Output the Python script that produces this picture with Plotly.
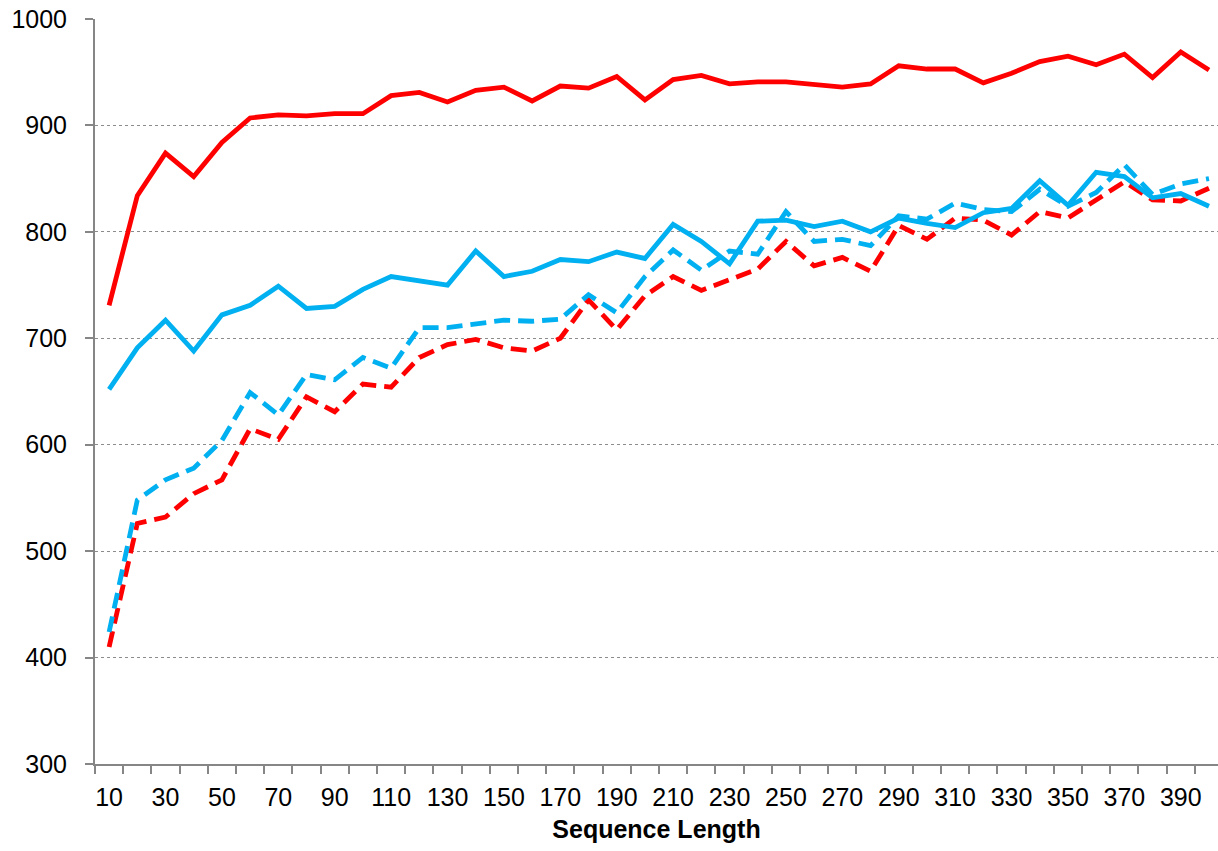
import plotly.graph_objects as go

# Sequence lengths on the x axis
seq_len = [10, 20, 30, 40, 50, 60, 70, 80, 90, 100,
           110, 120, 130, 140, 150, 160, 170, 180, 190, 200,
           210, 220, 230, 240, 250, 260, 270, 280, 290, 300,
           310, 320, 330, 340, 350, 360, 370, 380, 390, 400]

# Labelled ticks (every other category)
tick_labels = [10, 30, 50, 70, 90, 110, 130, 150, 170, 190,
               210, 230, 250, 270, 290, 310, 330, 350, 370, 390]

red_solid = [731, 834, 874, 852, 884, 907, 910, 909, 911, 911,
             928, 931, 922, 933, 936, 923, 937, 935, 946, 924,
             943, 947, 939, 941, 941, 939, 936, 939, 956, 953,
             953, 940, 949, 960, 965, 957, 967, 945, 969, 952]

blue_solid = [652, 691, 717, 688, 722, 731, 749, 728, 730, 746,
              758, 754, 750, 782, 758, 763, 774, 772, 781, 775,
              807, 791, 770, 810, 811, 805, 810, 800, 813, 808,
              804, 818, 822, 848, 825, 856, 852, 832, 836, 824]

red_dashed = [410, 526, 532, 554, 567, 615, 605, 645, 631, 657,
              654, 682, 694, 699, 691, 688, 700, 736, 708, 740,
              758, 745, 755, 765, 791, 768, 776, 763, 806, 793,
              813, 811, 797, 819, 813, 830, 847, 830, 829, 841]

blue_dashed = [424, 548, 567, 578, 604, 649, 628, 666, 661, 682,
               672, 710, 710, 713, 717, 716, 718, 741, 724, 758,
               783, 764, 782, 779, 819, 791, 793, 787, 815, 812,
               827, 821, 819, 840, 824, 837, 863, 835, 845, 850]

RED = "#FF0000"
BLUE = "#00B0F0"
GRID = "#8C8C8C"
AXIS = "#868686"
FONT = "Liberation Sans, Arial, sans-serif"

fig = go.Figure()
for ys, color, dash in [
    (red_dashed, RED, "16px,8px"),
    (blue_dashed, BLUE, "16px,8px"),
    (red_solid, RED, "solid"),
    (blue_solid, BLUE, "solid"),
]:
    fig.add_trace(go.Scatter(
        x=seq_len, y=ys, mode="lines",
        line=dict(color=color, width=4.8, dash=dash),
        hoverinfo="x+y",
    ))

fig.update_layout(
    width=1218, height=851,
    margin=dict(l=95, r=0, t=19, b=87),
    paper_bgcolor="white", plot_bgcolor="white",
    showlegend=False,
    font=dict(family=FONT, size=25, color="#000000"),
)

fig.update_xaxes(
    range=[5, 403.2],
    tickmode="array", tickvals=tick_labels, ticktext=[str(v) for v in tick_labels],
    ticks="", showgrid=False, zeroline=False,
    showline=True, linecolor=AXIS, linewidth=2,
    tickfont=dict(size=25), ticklabelstandoff=10,
    minor=dict(tickmode="linear", tick0=5, dtick=10, ticks="outside",
               ticklen=8, tickcolor=AXIS, tickwidth=1.5, showgrid=False),
    title=dict(text="<b>Sequence Length</b>", font=dict(size=25), standoff=10),
)

fig.update_yaxes(
    range=[300, 1000], dtick=100, tick0=300,
    showgrid=True, gridcolor=GRID, gridwidth=1.3, griddash="dot",
    zeroline=False,
    showline=True, linecolor=AXIS, linewidth=2,
    ticks="outside", ticklen=8, tickcolor=AXIS, tickwidth=1.5,
    tickfont=dict(size=25), ticklabelstandoff=13,
)

fig.write_html("out.html")
